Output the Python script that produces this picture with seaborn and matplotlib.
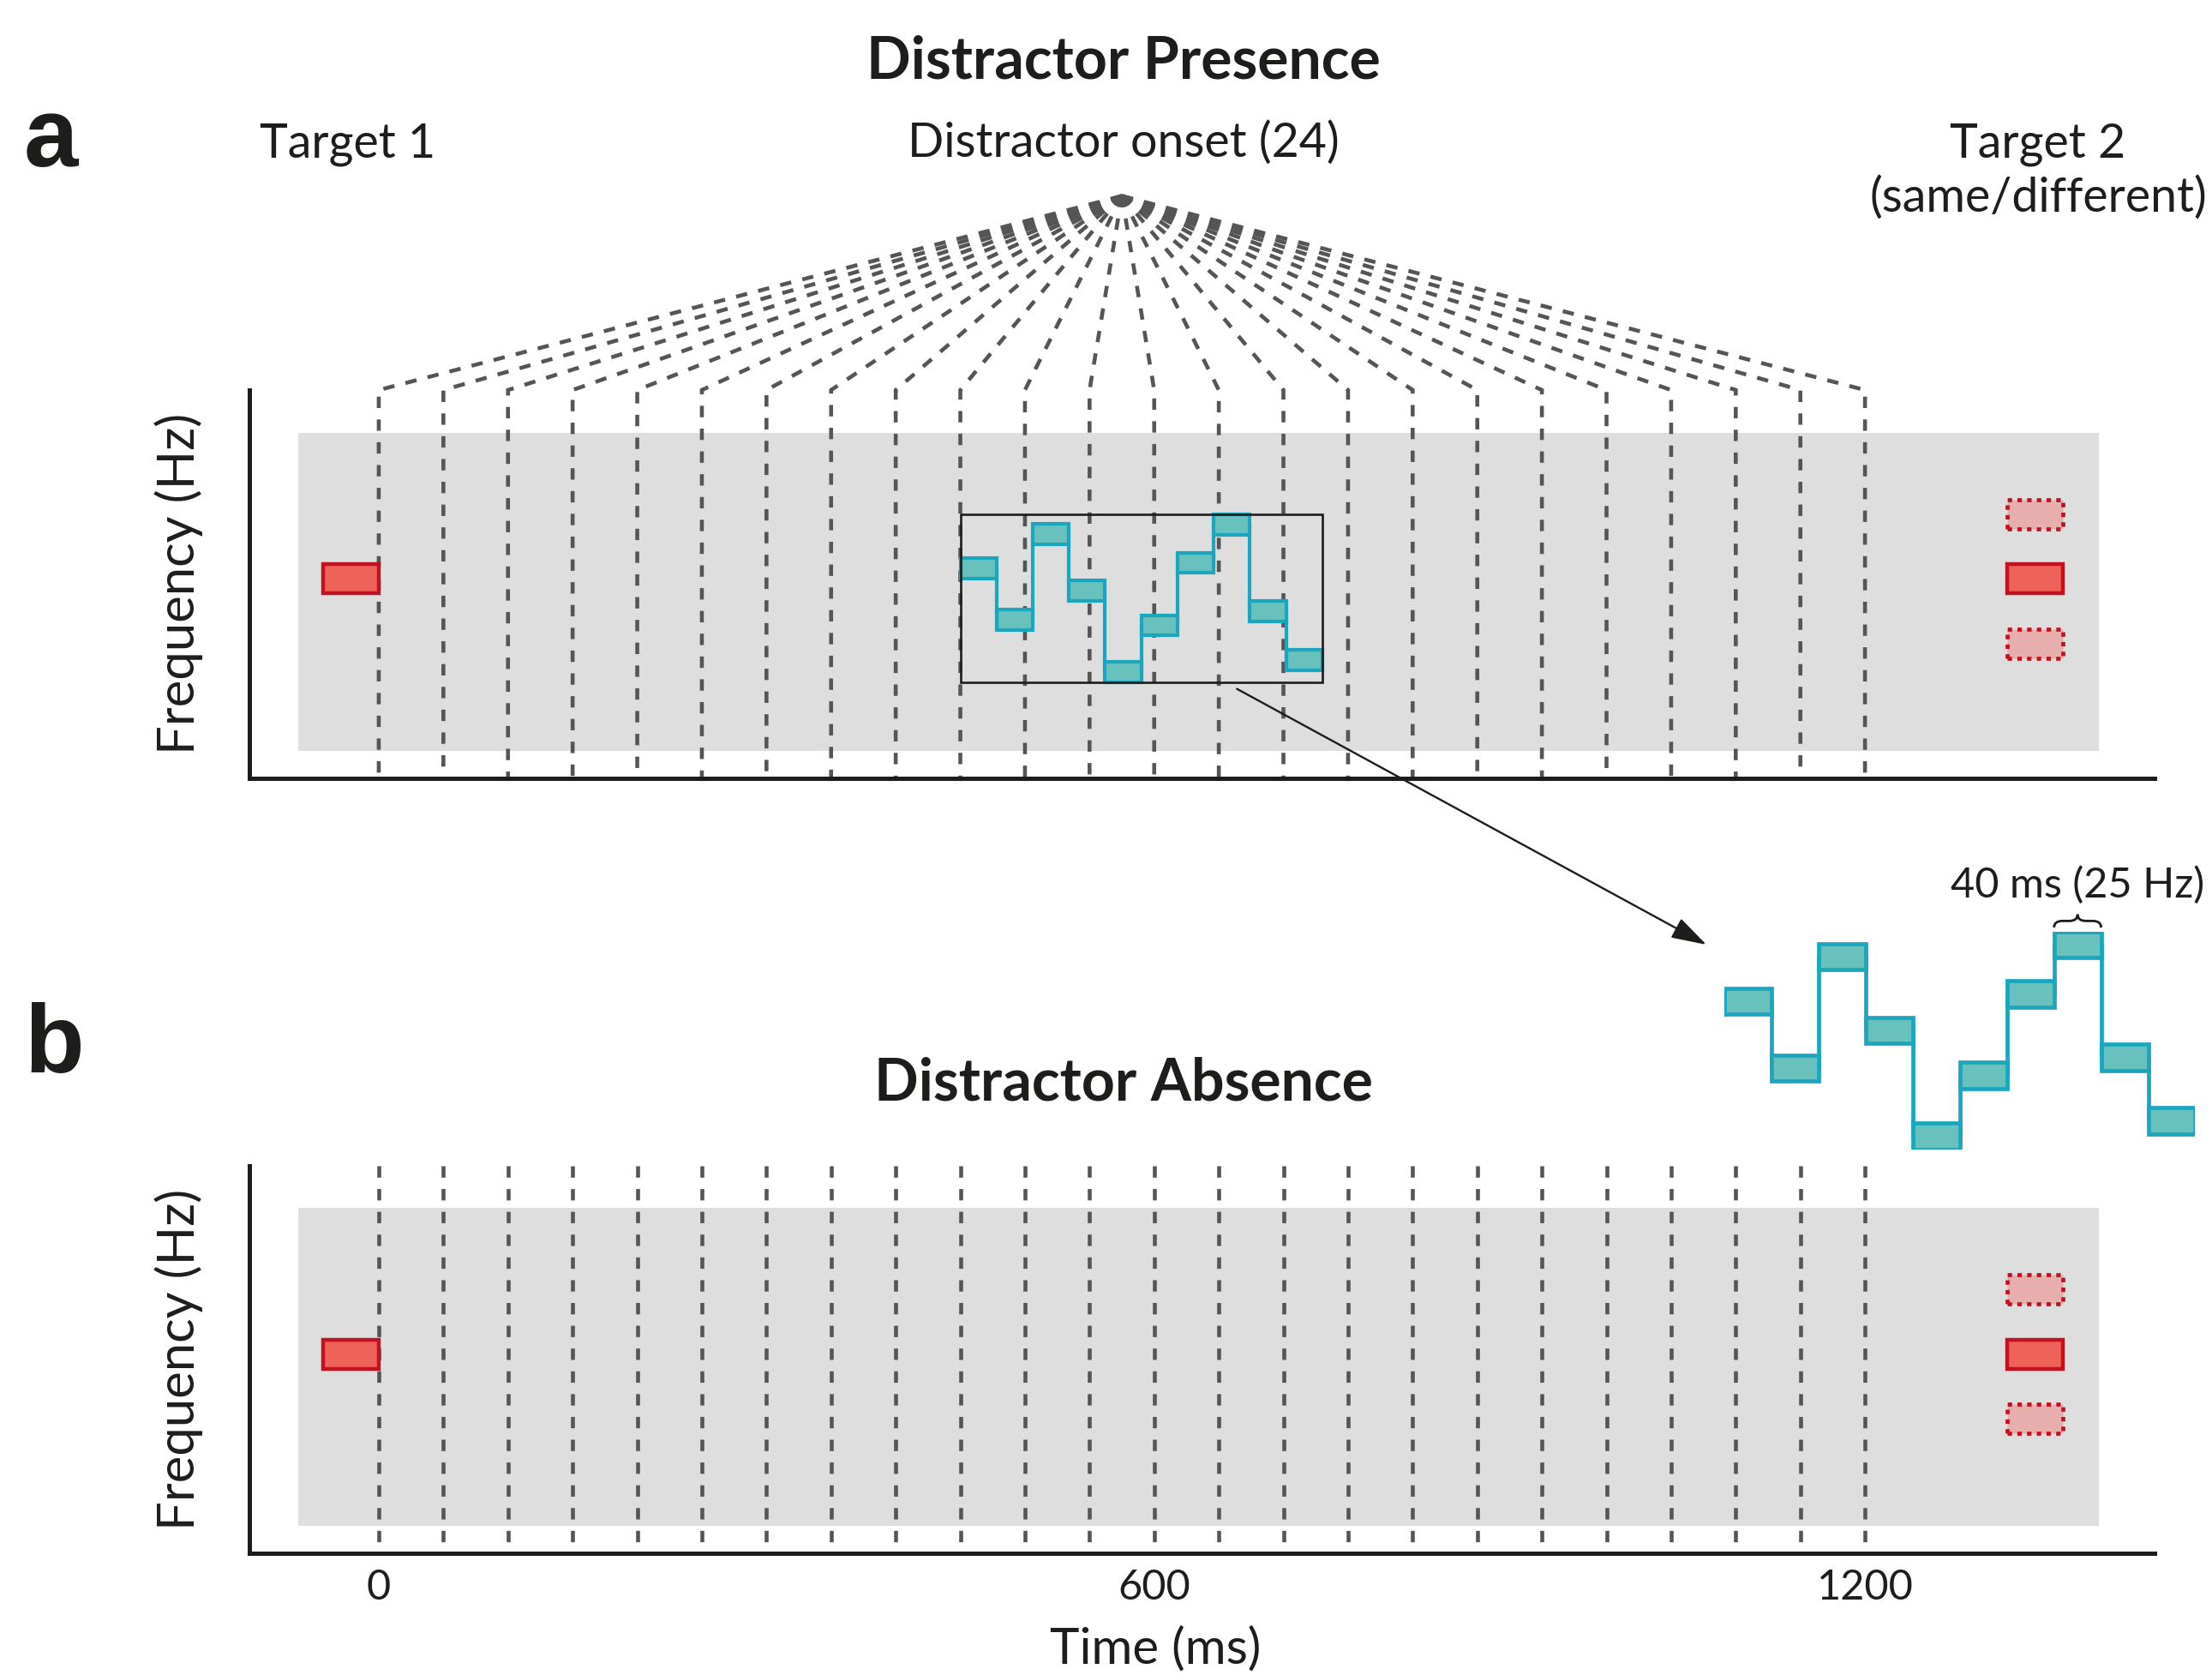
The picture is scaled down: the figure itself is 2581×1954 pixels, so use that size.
"""
Trial schematic: distractor presence vs absence, tone sequence timing.
"""

import numpy as np
import matplotlib.pyplot as plt
from matplotlib.patches import Rectangle, PathPatch
from matplotlib.path import Path
import seaborn as sns

W, H, DPI = 2581, 1954, 100

# ---- data -------------------------------------------------------------
onsets = np.arange(24) * 50                 # 24 possible distractor onsets (ms)
tick_pos = [0, 600, 1150]
tick_labels = ["0", "600", "1200"]

target_freq = 51.3                          # relative frequency units
target_alt_freqs = [68.0, 34.6]             # "different" alternatives for target 2
target1_onset = -43
target2_onset = 1260
target_dur = 43
target_h = 7.5

distractor_onset = 450                      # onset used in the example (9th)
tone_dur = 28
tone_h = 5.2
tone_freqs = [54.1, 40.8, 62.9, 48.3, 27.3, 39.4, 55.5, 65.3, 43.0, 30.4]

# ---- style ------------------------------------------------------------
GRAY_BG = "#DEDEDE"
DASH = "#555557"
RED_EDGE = "#C1121F"
RED_FILL = "#EE625A"
PINK_FILL = "#E8AEAD"
TONE_EDGE = "#1AA6BE"
TONE_FILL = "#68C1BD"
INK = "#1D1D1B"

sns.set_theme(style="white")
plt.rcParams["font.family"] = ["Lato", "DejaVu Sans"]

XLIM = (-100.3, 1373.8)
YLIM = (0, 100)
FAN_APEX_Y = 150


def fx(px):
    return px / W


def fy(py):
    return 1 - py / H


def style_axes(ax):
    ax.set_xlim(*XLIM)
    ax.set_ylim(*YLIM)
    for side in ["top", "right"]:
        ax.spines[side].set_visible(False)
    for side in ["left", "bottom"]:
        ax.spines[side].set_linewidth(3.6)
        ax.spines[side].set_color(INK)
    ax.set_yticks([])
    ax.set_facecolor("none")


def draw_tones(ax, lw):
    xs = distractor_onset + np.arange(len(tone_freqs)) * tone_dur
    step_x = np.append(xs, xs[-1] + tone_dur)
    step_y = np.append(tone_freqs, tone_freqs[-1])
    sns.lineplot(x=step_x, y=step_y, drawstyle="steps-post", color=TONE_EDGE,
                 lw=lw, ax=ax, sort=False, estimator=None, legend=False, zorder=3)
    for x, f in zip(xs, tone_freqs):
        ax.add_patch(Rectangle((x, f - tone_h / 2), tone_dur, tone_h, fc=TONE_FILL,
                               ec=TONE_EDGE, lw=lw, zorder=4, joinstyle="miter"))


def draw_panel(ax, fan):
    style_axes(ax)
    ax.add_patch(Rectangle((-62.3, 7), 1331.1 + 62.3, 82, fc=GRAY_BG, ec="none", zorder=0))
    apex_x = onsets.mean()
    for x in onsets:
        if fan:
            xs, ys = [apex_x, x, x], [FAN_APEX_Y, YLIM[1], 0]
        else:
            xs, ys = [x, x], [YLIM[1], 0]
        ax.plot(xs, ys, color=DASH, lw=3.3, ls=(0, (2.9, 2.9)), clip_on=False,
                zorder=1, dash_joinstyle="miter", dash_capstyle="butt")

    # target 1 and target 2
    for on in [target1_onset, target2_onset]:
        ax.add_patch(Rectangle((on, target_freq - target_h / 2), target_dur, target_h,
                               fc=RED_FILL, ec=RED_EDGE, lw=3.2, zorder=3))
    for f in target_alt_freqs:
        ax.add_patch(Rectangle((target2_onset, f - target_h / 2), target_dur, target_h,
                               fc=PINK_FILL, ec=RED_EDGE, lw=3.4, ls=(0, (1.1, 1.3)), zorder=3))

    ax.set_xticks(tick_pos)
    ax.set_xticklabels(tick_labels)
    ax.tick_params(axis="x", length=0, pad=13, labelsize=35, colors=INK)
    ax.text(-0.0368, 0.5, "Frequency (Hz)", transform=ax.transAxes, rotation=90,
            ha="center", va="center", fontsize=43, color=INK)


fig = plt.figure(figsize=(W / DPI, H / DPI), dpi=DPI)

ax_a = fig.add_axes([fx(290.7), fy(907.7), fx(2513.6) - fx(290.7), fy(455) - fy(907.7)])
ax_b = fig.add_axes([fx(290.7), fy(1811.7), fx(2513.6) - fx(290.7), fy(1359.7) - fy(1811.7)])
draw_panel(ax_a, fan=True)
draw_panel(ax_b, fan=False)
ax_a.set_xticklabels([])

# distractor sequence in panel a
draw_tones(ax_a, lw=3.0)
box_y0 = min(tone_freqs) - tone_h / 2
box_y1 = max(tone_freqs) + tone_h / 2
box_x1 = distractor_onset + len(tone_freqs) * tone_dur
ax_a.add_patch(Rectangle((distractor_onset, box_y0), box_x1 - distractor_onset, box_y1 - box_y0,
                         fill=False, ec=INK, lw=1.9, zorder=5))
ax_a.set_xlim(*XLIM)
ax_a.set_ylim(*YLIM)

# enlarged copy of the distractor sequence
ax_big = fig.add_axes([fx(2012.4), fy(1340.9), fx(549), 254.2 / H])
ax_big.axis("off")
draw_tones(ax_big, lw=3.4)
ax_big.set_xlim(distractor_onset, box_x1)
ax_big.set_ylim(box_y0, box_y1)

# brace over one tone + label
i = 7
bx0 = distractor_onset + i * tone_dur
bx1 = bx0 + tone_dur
bxm = (bx0 + bx1) / 2
yb = tone_freqs[i] + tone_h / 2 + 0.8
yt = yb + 2.6
ym = (yb + yt) / 2
r = 5
verts = [(bx0, yb), (bx0, ym), (bx0 + r, ym), (bxm - r, ym), (bxm, ym), (bxm, yt),
         (bxm, ym), (bxm + r, ym), (bx1 - r, ym), (bx1, ym), (bx1, yb)]
codes = [Path.MOVETO, Path.CURVE3, Path.CURVE3, Path.LINETO, Path.CURVE3, Path.CURVE3,
         Path.CURVE3, Path.CURVE3, Path.LINETO, Path.CURVE3, Path.CURVE3]
ax_big.add_patch(PathPatch(Path(verts, codes), fill=False, ec=INK, lw=2.0, clip_on=False))
ax_big.text(bxm, 74.7, "40 ms (25 Hz)", ha="center", va="baseline", fontsize=35, color=INK)

# arrow from the boxed sequence to its enlarged copy
ax_a.annotate("", xy=(439.1, 65.3), xycoords=ax_big.transData,
              xytext=(664, 23), textcoords=ax_a.transData, annotation_clip=False,
              arrowprops=dict(arrowstyle="-|>,head_length=0.55,head_width=0.17",
                              mutation_scale=46, lw=1.7, color=INK, shrinkA=0, shrinkB=0))

# ---- text ---------------------------------------------------------------
fig.text(fx(1311), fy(92), "Distractor Presence", ha="center", va="baseline",
         fontsize=49, fontweight="bold", color=INK)
fig.text(fx(1311), fy(1283), "Distractor Absence", ha="center", va="baseline",
         fontsize=49, fontweight="bold", color=INK)
fig.text(fx(28), fy(194), "a", ha="left", va="baseline", fontsize=82,
         fontweight="bold", family=["Liberation Sans", "DejaVu Sans"], color=INK)
fig.text(fx(28), fy(1251), "b", ha="left", va="baseline", fontsize=82,
         fontweight="bold", family=["Liberation Sans", "DejaVu Sans"], color=INK)
fig.text(fx(406), fy(183), "Target 1", ha="center", va="baseline", fontsize=40, color=INK)
fig.text(fx(1311), fy(183), "Distractor onset (24)", ha="center", va="baseline",
         fontsize=40, color=INK)
fig.text(fx(2378), fy(183), "Target 2", ha="center", va="baseline", fontsize=40, color=INK)
fig.text(fx(2378), fy(247), "(same/different)", ha="center", va="baseline",
         fontsize=40, color=INK)
fig.text(fx(1348), fy(1940), "Time (ms)", ha="center", va="baseline", fontsize=42, color=INK)

fig.savefig("out.png", dpi=DPI)
plt.close()
